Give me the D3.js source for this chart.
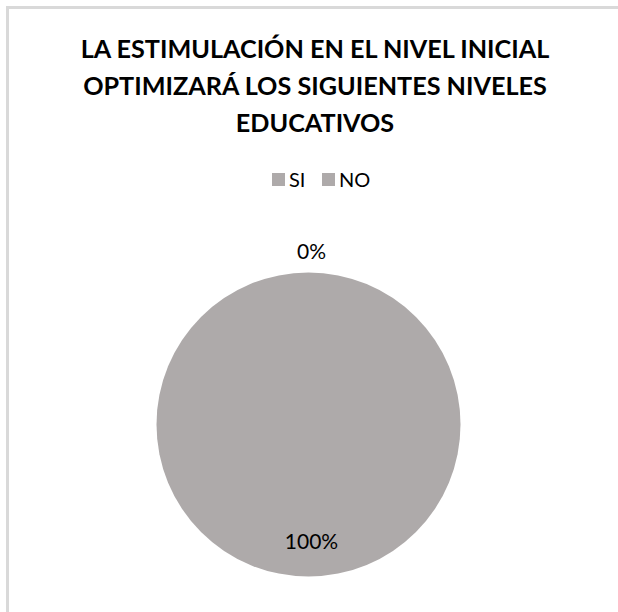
<!DOCTYPE html>
<html>
<head>
<meta charset="utf-8">
<script src="https://cdn.jsdelivr.net/npm/d3@7"></script>
<style>
  body { margin: 0; background: #fff; }
  text { font-family: Lato, "Open Sans", sans-serif; }
</style>
</head>
<body>
<script>
var width = 618,
    height = 612;

// data
var titleLines = ["LA ESTIMULACIÓN EN EL NIVEL INICIAL", "OPTIMIZARÁ LOS SIGUIENTES NIVELES", "EDUCATIVOS"];
var categories = ["SI", "NO"];
var values = [100, 0];
var sliceColors = ["#aeaaaa", "#aeaaaa"];

var svg = d3.select("body").append("svg")
    .attr("width", width)
    .attr("height", height);

// chart frame (only top and left edges visible in the crop)
svg.append("path")
    .attr("d", "M7.5," + height + "V7.5H" + width)
    .attr("fill", "none")
    .attr("stroke", "#d9d9d9")
    .attr("stroke-width", 3);

// title
var title = svg.append("g")
    .attr("font-weight", "bold")
    .attr("fill", "#000");

var t = title.selectAll("text")
    .data(titleLines)
    .enter()
    .append("text")
    .attr("x", 315)
    .attr("y", function(d, i){ return 58 + i * 37; })
    .attr("text-anchor", "middle")
    .attr("font-size", 24)
    .text(function(d){ return d; });

// fit the first line to its width in the picture
var w0 = t.node().getComputedTextLength();
var fs = 24 * 469 / w0;
t.attr("font-size", fs);

// legend
var legend = svg.append("g").attr("font-size", 20);
var lx = d3.scaleOrdinal().domain(categories).range([272, 322]);

legend.selectAll("rect")
    .data(categories)
    .enter()
    .append("rect")
    .attr("x", function(d){ return lx(d); })
    .attr("y", 173)
    .attr("width", 13)
    .attr("height", 13)
    .attr("fill", function(d, i){ return sliceColors[i]; });

legend.selectAll("text")
    .data(categories)
    .enter()
    .append("text")
    .attr("x", function(d){ return lx(d) + 17; })
    .attr("y", 187)
    .attr("fill", "#000")
    .text(function(d){ return d; });

// pie
var cx = 308.5, cy = 424.5, r = 152;

var pie = d3.pie().sort(null).value(function(d){ return d; });
var arc = d3.arc().innerRadius(0).outerRadius(r);
var arcs = pie(values);

var g = svg.append("g")
    .attr("transform", "translate(" + cx + "," + cy + ")");

g.selectAll("path")
    .data(arcs)
    .enter()
    .append("path")
    .attr("d", arc)
    .attr("fill", function(d, i){ return sliceColors[i]; });

// data labels
var total = d3.sum(values);
var fmt = function(v){ return Math.round(v / total * 100) + "%"; };
var inner = d3.arc().innerRadius(r * 0.77).outerRadius(r * 0.77);
var outer = d3.arc().innerRadius(r + 21).outerRadius(r + 21);

g.selectAll("text")
    .data(arcs)
    .enter()
    .append("text")
    .attr("transform", function(d){
        var p = (d.endAngle - d.startAngle) > 0.3 ? inner.centroid(d) : outer.centroid(d);
        return "translate(" + (p[0] + 3) + "," + p[1] + ")";
    })
    .attr("text-anchor", "middle")
    .attr("dy", "0.35em")
    .attr("font-size", 21)
    .attr("fill", "#000")
    .text(function(d){ return fmt(d.data); });
</script>
</body>
</html>
